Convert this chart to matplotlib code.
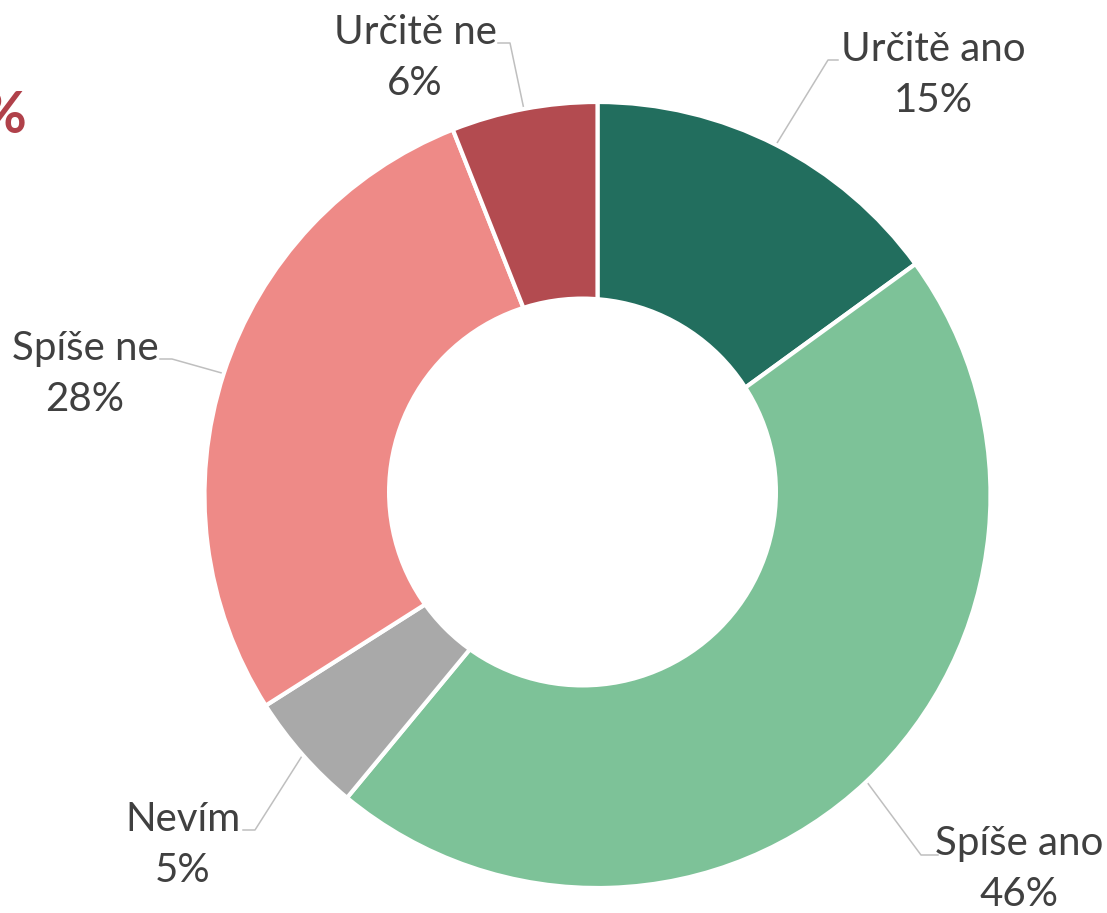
import numpy as np
import matplotlib.pyplot as plt
from matplotlib.patches import Circle

# data
kategorie = ['Určitě ano', 'Spíše ano', 'Nevím', 'Spíše ne', 'Určitě ne']
hodnoty = [15, 46, 5, 28, 6]
barvy = ['#226E5E', '#7DC298', '#A9A9A9', '#EE8A87', '#B34B50']

# layout (pixels in the 1107x913 picture)
W, H = 1107, 913
cx, cy, R = 597.5, 495, 393
hole_c, hole_r = (582.5, 492), 195.5   # the hole sits a bit off-centre

# label block centres and elbow points (pixels)
label_pos = [(933, 75), (1019, 869), (183, 845), (85, 374), (415, 58)]
elbow = [((838, 60), (828, 60)),
         ((938, 855), (921, 855)),
         ((243, 830), (255, 830)),
         ((160, 359), (172, 359)),
         ((498, 43), (510, 43))]


def px(x, y):
    return (x - cx) / R, (cy - y) / R


fig = plt.figure(figsize=(W / 100, H / 100), dpi=100)
ax = fig.add_axes([0, 0, 1, 1])

wedges, _ = ax.pie(hodnoty, colors=barvy, startangle=90, counterclock=False,
                   radius=1, wedgeprops=dict(edgecolor='white', linewidth=3))
ax.add_patch(Circle(px(*hole_c), hole_r / R, facecolor='white', edgecolor='none', zorder=5))

ax.set_xlim(-cx / R, (W - cx) / R)
ax.set_ylim(-(H - cy) / R, cy / R)
ax.set_aspect('auto')
ax.axis('off')

for w, kat, val, lp, (e1, e2) in zip(wedges, kategorie, hodnoty, label_pos, elbow):
    mid = np.deg2rad((w.theta1 + w.theta2) / 2)
    x0, y0 = np.cos(mid), np.sin(mid)
    xa, ya = px(*e1)
    xb, yb = px(*e2)
    ax.plot([xa, xb, x0], [ya, yb, y0], color='#BFBFBF', lw=1.1, zorder=0)
    tx, ty = px(*lp)
    ax.text(tx, ty, f'{kat}\n{val}%', ha='center', va='center', fontsize=29,
            family='Lato', color='#404040', linespacing=1.45)

# clipped title at the left edge
ax.text(*px(27, 133), '%', ha='right', va='baseline', fontsize=41,
        fontweight='bold', family='Lato', color='#B0414A')

fig.savefig('out.png', dpi=100)
